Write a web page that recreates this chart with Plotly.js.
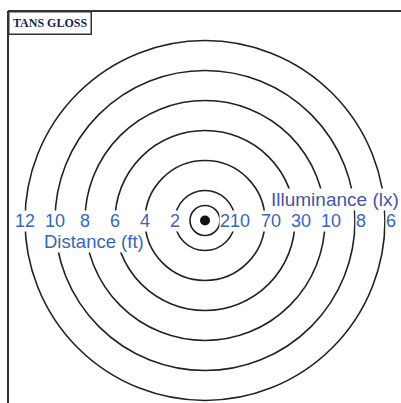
<!DOCTYPE html>
<html>
<head>
<meta charset="utf-8">
<script src="https://cdn.plot.ly/plotly-3.0.1.min.js"></script>
<style>
html,body{margin:0;padding:0;background:#fff;}
#chart{width:401px;height:403px;}
</style>
</head>
<body>
<div id="chart"></div>
<script>
// Data
const ringDistances = [1, 2, 4, 6, 8, 10, 12];          // ft, circles drawn
const labelDistances = [2, 4, 6, 8, 10, 12];            // ft, labelled circles
const illuminance = ['210', '70', '30', '10', '8', '6']; // lx at each labelled distance
const titleText = 'TANS GLOSS';
const distanceTitle = 'Distance (ft)';
const illumTitle = 'Illuminance (lx)';

const W = 401, H = 403;
const ml = 8, mt = 11;
const pxPerFt = 15;
const cx = 205, cy = 220.5;
const xr = [-(cx - ml) / pxPerFt, (W - cx) / pxPerFt];
const yr = [-(H - cy) / pxPerFt, (cy - mt) / pxPerFt];

const textColor = '#3767b3';
const numFont = {family: 'Liberation Sans, Arial, sans-serif', size: 18, color: textColor};

const shapes = ringDistances.map(r => ({
  type: 'circle', xref: 'x', yref: 'y',
  x0: -r, x1: r, y0: -r, y1: r,
  line: {color: '#222', width: 1.6}, layer: 'below'
}));
// frame
shapes.push({type: 'line', xref: 'paper', yref: 'paper', x0: 0, x1: 1, y0: 1, y1: 1, line: {color: '#333', width: 2}});
shapes.push({type: 'line', xref: 'paper', yref: 'paper', x0: 0, x1: 0, y0: 0, y1: 1, line: {color: '#333', width: 2}});

const annotations = [];
labelDistances.forEach((d, i) => {
  annotations.push({x: -d, y: 0, xref: 'x', yref: 'y', text: String(d), showarrow: false,
    font: numFont, bgcolor: '#fff', borderpad: 0, xanchor: 'center', yanchor: 'middle'});
  annotations.push({x: d, y: 0, xref: 'x', yref: 'y', text: illuminance[i], showarrow: false,
    font: numFont, bgcolor: '#fff', borderpad: 0, xanchor: 'center', yanchor: 'middle', xshift: i === 0 ? 0 : 6});
});
// axis-like titles, placed in data coordinates relative to the centre
annotations.push({x: (145 - cx) / pxPerFt, y: (cy - 241) / pxPerFt, xref: 'x', yref: 'y', text: distanceTitle, showarrow: false,
  font: {family: 'Liberation Sans, Arial, sans-serif', size: 18.5, color: textColor},
  bgcolor: '#fff', borderpad: 0, xanchor: 'right', yanchor: 'middle'});
annotations.push({x: (400 - cx) / pxPerFt, y: (cy - 199) / pxPerFt, xref: 'x', yref: 'y', text: illumTitle, showarrow: false,
  font: {family: 'Liberation Sans, Arial, sans-serif', size: 19, color: '#45579a'},
  bgcolor: '#fff', borderpad: 0, xanchor: 'right', yanchor: 'middle'});
// title box
annotations.push({xref: 'paper', yref: 'paper', x: 0, y: 1, xanchor: 'left', yanchor: 'top',
  text: '<b>' + titleText + '</b>', showarrow: false,
  font: {family: 'Liberation Serif, Times New Roman, serif', size: 12, color: '#1b1f45'},
  bgcolor: '#fff', bordercolor: '#333', borderwidth: 1.5, borderpad: 3.5});

const data = [{
  type: 'scatter', mode: 'markers', x: [0], y: [0],
  marker: {size: 10, color: '#111'}, hoverinfo: 'skip', showlegend: false
}];

const axisBase = {showgrid: false, zeroline: false, showticklabels: false, ticks: '', showline: false, fixedrange: true};
const layout = {
  width: W, height: H,
  margin: {l: ml, r: 0, t: mt, b: 0, pad: 0},
  paper_bgcolor: '#fff', plot_bgcolor: '#fff',
  xaxis: Object.assign({}, axisBase, {range: xr}),
  yaxis: Object.assign({}, axisBase, {range: yr}),
  shapes: shapes, annotations: annotations, showlegend: false
};
Plotly.newPlot('chart', data, layout, {displayModeBar: false, staticPlot: true});
</script>
</body>
</html>
